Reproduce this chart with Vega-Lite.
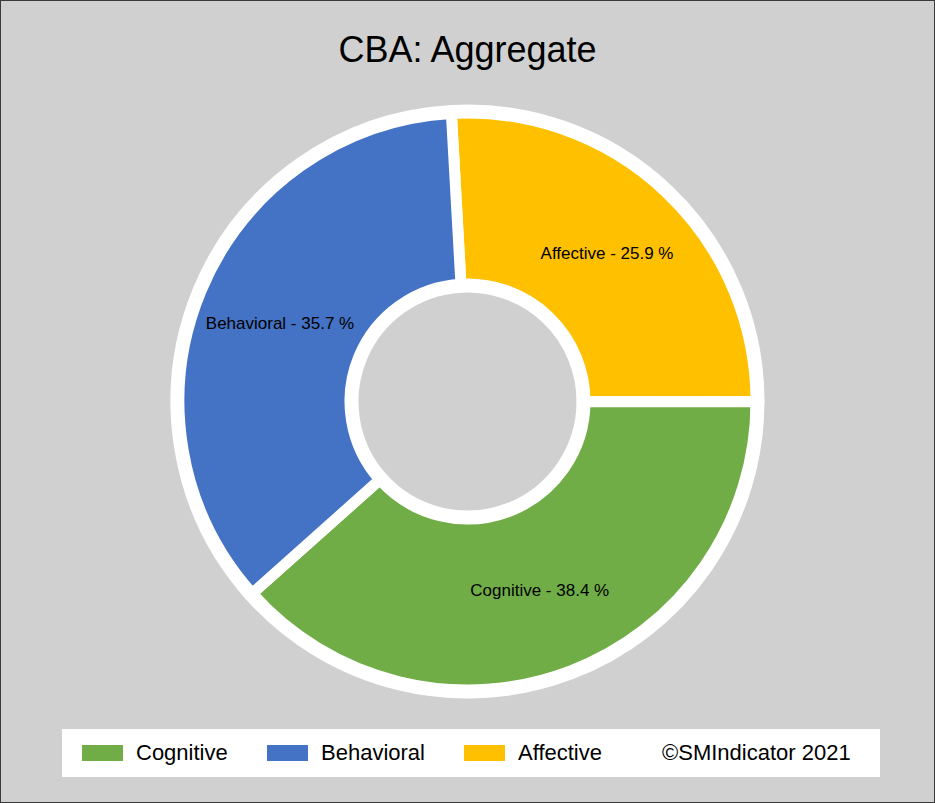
{
  "$schema": "https://vega.github.io/schema/vega-lite/v6.json",
  "width": 935,
  "height": 803,
  "autosize": {"type": "none"},
  "padding": 0,
  "background": "#d0d0d0",
  "view": {"stroke": "#3a3a3a", "strokeWidth": 2, "fill": "#d0d0d0"},
  "title": {
    "text": "CBA: Aggregate",
    "orient": "top",
    "anchor": "middle",
    "fontSize": 36,
    "font": "Liberation Sans",
    "fontWeight": "normal",
    "color": "#000000",
    "baseline": "alphabetic",
    "offset": -98
  },
  "data": {
    "values": [
      {"category": "Affective", "value": 25.9, "order": 1, "label": "Affective - 25.9 %"},
      {"category": "Cognitive", "value": 38.4, "order": 2, "label": "Cognitive - 38.4 %"},
      {"category": "Behavioral", "value": 35.7, "order": 3, "label": "Behavioral - 35.7 %"}
    ]
  },
  "encoding": {
    "theta": {"field": "value", "type": "quantitative", "stack": true, "scale": {"range": [-0.0559, 6.2273]}},
    "order": {"field": "order", "type": "quantitative"}
  },
  "layer": [
    {
      "mark": {"type": "arc", "radius": 296, "radius2": 110, "fill": "#ffffff", "stroke": "#ffffff", "strokeWidth": 2},
      "encoding": {"detail": {"field": "category", "type": "nominal"}}
    },
    {
      "mark": {"type": "arc", "radius": 288.5, "radius2": 117.5, "stroke": "#ffffff", "strokeWidth": 11},
      "encoding": {
        "color": {
          "field": "category",
          "type": "nominal",
          "scale": {"domain": ["Cognitive", "Behavioral", "Affective"], "range": ["#70AD47", "#4472C4", "#FFC000"]},
          "legend": {
            "orient": "none",
            "legendX": 62,
            "legendY": 729,
            "direction": "horizontal",
            "title": "©SMIndicator 2021\u2800",
            "titleOrient": "right",
            "titleFontSize": 22,
            "titleFont": "Liberation Sans",
            "titleFontWeight": "normal",
            "titleColor": "#000000",
            "titlePadding": 60,
            "titleBaseline": "middle",
            "titleLimit": 400,
            "labelFontSize": 22,
            "labelFont": "Liberation Sans",
            "labelColor": "#000000",
            "labelOffset": 39,
            "labelLimit": 300,
            "symbolType": "M-0.364,-0.727H3.364V0.727H-0.364Z",
            "symbolSize": 484,
            "symbolStrokeWidth": 0,
            "symbolOpacity": 1,
            "columnPadding": 32,
            "fillColor": "#ffffff",
            "padding": 13
          }
        }
      }
    },
    {
      "mark": {"type": "text", "radius": 203, "fontSize": 17, "font": "Liberation Sans", "fill": "#000000"},
      "encoding": {
        "text": {"field": "label", "type": "nominal"},
        "detail": {"field": "category", "type": "nominal"}
      }
    }
  ]
}
